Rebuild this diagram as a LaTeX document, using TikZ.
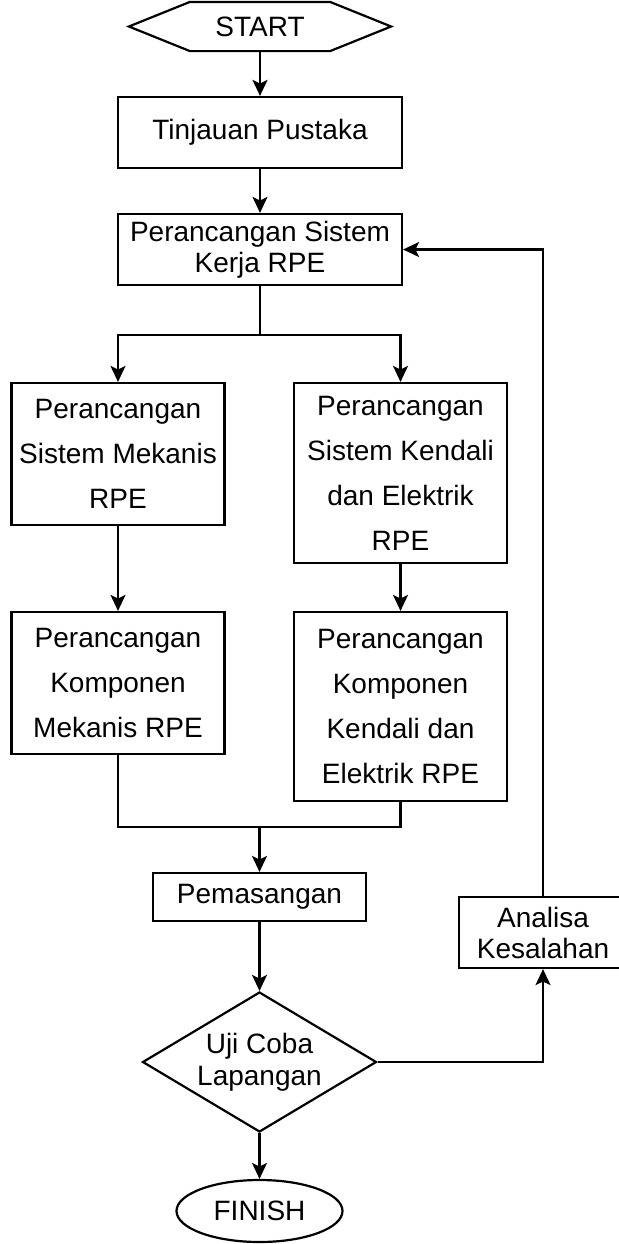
\documentclass[tikz,border=0pt]{standalone}
\usepackage{fontspec}
\setmainfont{Liberation Sans}
\usetikzlibrary{arrows.meta, positioning, shapes.geometric}

\begin{document}
\begin{tikzpicture}[x=0.5pt,y=-0.5pt,line width=1.1pt,
    >={Stealth[length=8pt,width=7.5pt,inset=1.8pt]}]
  \tikzstyle{proses}=[draw, rectangle, align=center, inner sep=2pt,
    minimum width=142pt, minimum height=35.5pt,
    font=\fontsize{14}{15.5}\selectfont]
  \tikzstyle{kolom}=[proses, minimum width=106.5pt,
    font=\fontsize{14}{22.5}\selectfont]
  \tikzstyle{keputusan}=[draw, diamond, align=center, inner sep=0pt, aspect=1.67,
    minimum width=117pt, minimum height=70pt,
    font=\fontsize{14}{16}\selectfont]
  \tikzstyle{terminal}=[draw, ellipse, minimum width=83pt, minimum height=31pt,
    font=\fontsize{14}{16}\selectfont]

  \useasboundingbox (0,0) rectangle (618,1244);

  \node[minimum width=130pt, minimum height=23.5pt,
        font=\fontsize{14}{16}\selectfont]      (start)    at (260,26.5)   {START};
  \node[proses]                                   (tinjauan) at (260,132.5)  {Tinjauan Pustaka};
  \node[proses]                                   (kerja)    at (260,249.5)  {Perancangan Sistem\\Kerja RPE};
  \node[kolom, minimum height=71pt]               (mekanis)  at (118,454)    {Perancangan\\Sistem Mekanis\\RPE};
  \node[kolom, minimum height=90pt]               (kendali)  at (400.5,473)  {Perancangan\\Sistem Kendali\\dan Elektrik\\RPE};
  \node[kolom, minimum height=71pt]               (kompmek)  at (118,683)    {Perancangan\\Komponen\\Mekanis RPE};
  \node[kolom, minimum height=94.5pt]             (kompken)  at (400.5,706.5) {Perancangan\\Komponen\\Kendali dan\\Elektrik RPE};
  \node[proses, minimum width=106.5pt, minimum height=24pt] (pasang) at (259.5,897) {Pemasangan};
  \node[keputusan]                                (uji)      at (259.5,1062) {Uji Coba\\Lapangan};
  \node[terminal]                                 (finish)   at (259.5,1211) {FINISH};
  \node[proses, minimum width=84pt]               (analisa)  at (543,932.5)  {Analisa\\Kesalahan};

  % hexagon round START
  \draw ([xshift=30.5pt]start.north west) -- ([xshift=-30.5pt]start.north east)
    -- (start.east) -- ([xshift=-30.5pt]start.south east)
    -- ([xshift=30.5pt]start.south west) -- (start.west) -- cycle;

  \coordinate (cabang) at (260,335);
  \coordinate (gabung) at (259.5,827);

  \path[->]
  (start)    edge (tinjauan)
  (tinjauan) edge (kerja)
  (mekanis)  edge (kompmek)
  (kendali)  edge (kompken)
  (gabung)   edge (pasang)
  (pasang)   edge (uji)
  (uji)      edge (finish)
  ;

  \draw (kerja) -- (cabang);
  \draw[->] (cabang) -| (mekanis);
  \draw[->] (cabang) -| (kendali);
  \draw (kompmek) |- (gabung) -| (kompken);

  % loop back
  \draw[->] (uji) -| (analisa);
  \draw[->] (analisa) |- (kerja);
\end{tikzpicture}
\end{document}
